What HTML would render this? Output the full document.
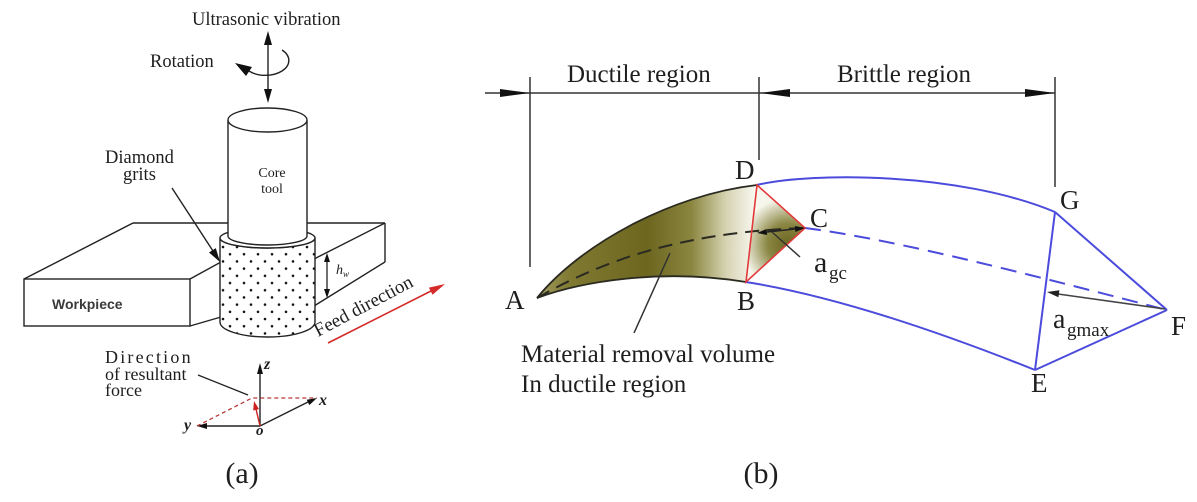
<!DOCTYPE html>
<html><head><meta charset="utf-8"><style>
html,body{margin:0;padding:0;background:#fff;}
svg{display:block;}
text{font-family:"Liberation Serif","Times New Roman",serif;fill:#1e1e1e;}
</style></head><body>
<svg width="1197" height="502" viewBox="0 0 1197 502" xmlns="http://www.w3.org/2000/svg">
<defs>
<pattern id="dots" patternUnits="userSpaceOnUse" x="220" y="244" width="14" height="14.4">
<circle cx="3" cy="3" r="1.3" fill="#111"/>
<circle cx="10" cy="10.2" r="1.3" fill="#111"/>
</pattern>
<linearGradient id="olive" gradientUnits="userSpaceOnUse" x1="537" y1="0" x2="757" y2="0">
<stop offset="0" stop-color="#a29d60"/>
<stop offset="0.15" stop-color="#7f7932"/>
<stop offset="0.5" stop-color="#6c661f"/>
<stop offset="0.7" stop-color="#8a853f"/>
<stop offset="0.86" stop-color="#d6d3b2"/>
<stop offset="1" stop-color="#fafaf4"/>
</linearGradient>
<radialGradient id="tri" gradientUnits="userSpaceOnUse" cx="788" cy="244" r="46">
<stop offset="0" stop-color="#6b6620"/>
<stop offset="0.45" stop-color="#8b8744"/>
<stop offset="1" stop-color="#f6f6ec"/>
</radialGradient>
</defs>

<!-- ============ Panel (a) ============ -->
<g stroke="#222" stroke-width="1.4" fill="none">
  <!-- workpiece -->
  <rect x="24" y="279" width="166" height="47" fill="#fff"/>
  <line x1="24" y1="279" x2="133" y2="223"/>
  <line x1="133" y1="223" x2="385" y2="223"/>
  <line x1="385" y1="223" x2="385" y2="262"/>
  <line x1="190" y1="279" x2="221" y2="262"/>
  <line x1="190" y1="326" x2="221" y2="317"/>
  <line x1="314" y1="259" x2="385" y2="223"/>
  <line x1="314" y1="306" x2="385" y2="262"/>
</g>
<!-- ring body -->
<path d="M220,238 A47.5,10 0 0 0 315,238 L315,322 A47.5,15 0 0 1 220,322 Z" fill="#fff"/>
<path d="M220,238 A47.5,10 0 0 0 315,238 L315,322 A47.5,15 0 0 1 220,322 Z" fill="url(#dots)" stroke="#222" stroke-width="1.4"/>
<ellipse cx="267.5" cy="238" rx="47.5" ry="10" fill="#fff" stroke="#222" stroke-width="1.4"/>
<!-- core tool -->
<rect x="228" y="120" width="79" height="116" fill="#fff"/>
<g stroke="#222" stroke-width="1.4" fill="none">
  <line x1="228" y1="120" x2="228" y2="236"/>
  <line x1="307" y1="120" x2="307" y2="236"/>
  <path d="M228,236 A39.5,9 0 0 0 307,236"/>
</g>
<ellipse cx="267.5" cy="120" rx="39.5" ry="12" fill="#fff" stroke="#222" stroke-width="1.4"/>
<text x="272" y="177" font-size="14" text-anchor="middle">Core</text>
<text x="272" y="193" font-size="14" text-anchor="middle">tool</text>

<!-- ultrasonic arrow -->
<g stroke="#222" stroke-width="1.4" fill="none">
  <path d="M282,50 A22,14 0 1 1 249,71"/>
  <line x1="268" y1="42" x2="268" y2="92"/>
</g>
<polygon points="268,31 264,45 272,45" fill="#111"/>
<polygon points="268,103 264,89 272,89" fill="#111"/>
<polygon points="235,63 252,67 246,76" fill="#111"/>
<text x="192" y="25" font-size="18.5">Ultrasonic vibration</text>
<text x="150" y="67" font-size="18.5">Rotation</text>

<!-- diamond grits -->
<text x="105" y="163" font-size="18.5">Diamond</text>
<text x="123" y="180" font-size="18.5">grits</text>
<line x1="172" y1="188" x2="213" y2="251" stroke="#222" stroke-width="1.4"/>
<polygon points="220,262 215.8,248.1 209,252.5" fill="#111"/>

<!-- workpiece label -->
<text x="52" y="309" font-size="14" font-weight="bold" style="font-family:'Liberation Sans',Arial,sans-serif;fill:#3a3a3a">Workpiece</text>

<!-- h_w -->
<line x1="327" y1="260" x2="327" y2="291" stroke="#222" stroke-width="1.3"/>
<polygon points="327,253 324,262 330,262" fill="#111"/>
<polygon points="327,298 324,289 330,289" fill="#111"/>
<text x="336" y="274" font-size="14" font-style="italic">h</text>
<text x="343" y="277" font-size="9" font-style="italic">w</text>

<!-- feed direction -->
<text x="0" y="0" font-size="19" transform="translate(318,337) rotate(-28)">Feed direction</text>
<line x1="328" y1="343" x2="431" y2="291" stroke="#d42a2a" stroke-width="1.6"/>
<polygon points="445,284 432.5,294.8 428.9,287.6" fill="#d42a2a"/>

<!-- direction of resultant force -->
<text x="105" y="363" font-size="18" letter-spacing="2.2">Direction</text>
<text x="105" y="380" font-size="18">of resultant</text>
<text x="105" y="396" font-size="18">force</text>
<line x1="198" y1="375" x2="248" y2="395" stroke="#222" stroke-width="1.3"/>

<!-- axes -->
<g stroke="#222" stroke-width="1.4">
  <line x1="260" y1="426" x2="260" y2="372"/>
  <line x1="260" y1="426" x2="308" y2="402"/>
  <line x1="260" y1="426" x2="206" y2="426"/>
</g>
<polygon points="260,363 257,374 263,374" fill="#111"/>
<polygon points="317,398 309.3,405.1 306.7,399.7" fill="#111"/>
<polygon points="197,426 207,423 207,429" fill="#111"/>
<polyline points="197,426 252,398 317,398" fill="none" stroke="#b83a3a" stroke-width="1.3" stroke-dasharray="4,3"/>
<line x1="260" y1="426" x2="256" y2="409" stroke="#cc2222" stroke-width="1.4"/>
<polygon points="254,401 259,409.1 253.2,410.5" fill="#cc2222"/>
<text x="264" y="369" font-size="16" font-style="italic" font-weight="bold">z</text>
<text x="319" y="405" font-size="16" font-style="italic" font-weight="bold">x</text>
<text x="184" y="430" font-size="16" font-style="italic" font-weight="bold">y</text>
<text x="256" y="435" font-size="15" font-style="italic" font-weight="bold">o</text>

<text x="242" y="483" font-size="30" text-anchor="middle">(a)</text>

<!-- ============ Panel (b) ============ -->
<!-- dimension lines -->
<g stroke="#333" stroke-width="1.5">
  <line x1="485" y1="93" x2="1055" y2="93"/>
  <line x1="530" y1="77" x2="530" y2="267"/>
  <line x1="759" y1="77" x2="759" y2="160"/>
  <line x1="1055" y1="77" x2="1055" y2="187"/>
</g>
<polygon points="530,93 500,89 500,97" fill="#111"/>
<polygon points="760,93 790,89 790,97" fill="#111"/>
<polygon points="1055,93 1025,89 1025,97" fill="#111"/>
<text x="567" y="82" font-size="25">Ductile region</text>
<text x="837" y="82" font-size="25">Brittle region</text>

<!-- blue outline -->
<g stroke="#4b4bdc" stroke-width="2" fill="none">
  <path d="M757,185 C810,172 960,172 1055,212"/>
  <path d="M746,282 Q860,300 1035,370"/>
  <path d="M805,228 C900,240 1050,280 1167,310" stroke-dasharray="16,9"/>
  <line x1="1055" y1="212" x2="1035" y2="370"/>
  <line x1="1055" y1="212" x2="1167" y2="310"/>
  <line x1="1035" y1="370" x2="1167" y2="310"/>
</g>

<!-- ductile volume -->
<path d="M537,298 C580,245 670,195 757,185 L746,282 C660,268 580,282 537,298 Z" fill="url(#olive)"/>
<path d="M537,298 C580,245 670,195 757,185" fill="none" stroke="#2a2a20" stroke-width="1.8"/>
<path d="M537,298 C580,282 660,268 746,282" fill="none" stroke="#2a2a20" stroke-width="1.8"/>
<polygon points="757,185 805,228 746,282" fill="url(#tri)"/>
<path d="M537,298 C600,262 680,232 805,228" fill="none" stroke="#2a2a22" stroke-width="2" stroke-dasharray="14,8"/>
<polygon points="757,185 805,228 746,282" fill="none" stroke="#e23a3a" stroke-width="1.6"/>

<!-- agc arrow -->
<line x1="767" y1="232" x2="795" y2="229" stroke="#222" stroke-width="1.5"/>
<polygon points="805,228 795.4,232 794.8,226" fill="#111"/>
<polygon points="757,233 767.2,235 766.6,229" fill="#111"/>
<line x1="800" y1="257" x2="772" y2="232" stroke="#333" stroke-width="1.5"/>

<!-- agmax arrow -->
<line x1="1165" y1="309" x2="1058" y2="294" stroke="#444" stroke-width="1.6"/>
<polygon points="1047,292 1059.4,290.2 1058.4,297.2" fill="#222"/>

<!-- material label leader -->
<line x1="670" y1="253" x2="634" y2="333" stroke="#333" stroke-width="1.5"/>

<!-- point labels -->
<g font-size="27">
  <text x="505" y="309">A</text>
  <text x="735" y="179">D</text>
  <text x="737" y="310">B</text>
  <text x="810" y="227">C</text>
  <text x="1060" y="209">G</text>
  <text x="1171" y="335">F</text>
  <text x="1031" y="392">E</text>
</g>
<text x="814" y="272" font-size="30">a</text>
<text x="829" y="279" font-size="19">gc</text>
<text x="1053" y="328" font-size="28">a</text>
<text x="1067" y="336" font-size="19">gmax</text>

<text x="521" y="362" font-size="25">Material removal volume</text>
<text x="521" y="392" font-size="25">In ductile region</text>

<text x="761" y="483" font-size="30" text-anchor="middle">(b)</text>
</svg>
</body></html>
